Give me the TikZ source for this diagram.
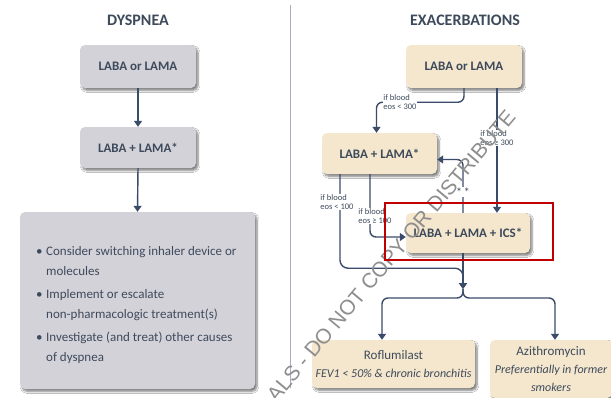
\documentclass[tikz,border=0pt]{standalone}
\usepackage{fontspec}
\usepackage{pdfrender}
\setmainfont{Carlito}
\newfontfamily\wmfont{Liberation Sans}
\usetikzlibrary{shadows.blur,arrows.meta,calc}

\definecolor{ink}{HTML}{3D4A5C}
\definecolor{wire}{HTML}{3B4C6B}
\definecolor{grayfill}{HTML}{D4D2D9}
\definecolor{beige}{HTML}{F5E7CD}
\definecolor{divider}{HTML}{A8AEBF}
\definecolor{alert}{HTML}{C00000}
\definecolor{wmline}{HTML}{8E8E8E}

\begin{document}
\begin{tikzpicture}[x=1pt,y=-1pt,
  card/.style={rounded corners=5pt, inner sep=0pt, text=ink, align=center,
    blur shadow={shadow xshift=2pt, shadow yshift=-2.5pt, shadow blur steps=6, shadow opacity=50}},
  graycard/.style={card, fill=grayfill},
  tancard/.style={card, fill=beige},
  drug/.style={font=\fontsize{13}{15}\selectfont\bfseries},
  heading/.style={font=\fontsize{16}{18}\selectfont\bfseries, text=ink},
  link/.style={draw=wire, line width=1.4pt, rounded corners=6pt,
    -{Triangle[length=6pt,width=8pt]}},
  note/.style={fill=white, inner sep=0.6pt, align=left, text=ink,
    font=\fontsize{8.5}{8.5}\selectfont},
  wmark/.style={rotate=50, font=\wmfont\fontsize{21}{21}\selectfont, inner sep=0pt, text=wmline}
]
\useasboundingbox (0,0) rectangle (611,397);
\fill[white] (0,0) rectangle (611,397);

% column divider
\draw[divider, line width=1pt] (290,5) -- (290,388);

% ---------------- dyspnea column ----------------
\node[heading] (tdys) at (138,20) {DYSPNEA};
\node[graycard, drug, minimum width=116pt, minimum height=43pt] (d1) at (138,66.5) {LABA or LAMA};
\node[graycard, drug, minimum width=116pt, minimum height=41pt] (d2) at (138,147.5) {LABA + LAMA*};
\node[graycard, minimum width=235pt, minimum height=177pt] (d3) at (137.5,300.5) {};
\node[anchor=north west, align=left, inner sep=0pt, text=ink,
      font=\fontsize{13}{20}\selectfont] (d3t) at (36,246) {%
  \makebox[10pt][l]{\textbullet}Consider switching inhaler device or\\
  \hspace*{10pt}molecules\\[3pt]
  \makebox[10pt][l]{\textbullet}Implement or escalate\\
  \hspace*{10pt}non-pharmacologic treatment(s)\\[3pt]
  \makebox[10pt][l]{\textbullet}Investigate (and treat) other causes\\
  \hspace*{10pt}of dyspnea};

\draw[link] (d1.south) -- (d2.north);
\draw[link] (d2.south) -- (d3.north);

% ---------------- exacerbations column ----------------
\node[heading] (texa) at (465,20) {EXACERBATIONS};
\node[tancard, drug, minimum width=116pt, minimum height=43pt] (e1) at (464,66.5) {LABA or LAMA};
\node[tancard, drug, minimum width=115pt, minimum height=41pt] (e2) at (379.5,153.5) {LABA + LAMA*};
\node[tancard, drug, minimum width=124pt, minimum height=40pt] (e3) at (468,233) {LABA + LAMA + ICS*};
\node[tancard, minimum width=163pt, minimum height=48pt,
      font=\fontsize{12}{18}\selectfont] (e4) at (393.5,364)
  {{\fontsize{13}{18}\selectfont Roflumilast}\\{\itshape FEV1 < 50\% \& chronic bronchitis}};
\node[tancard, minimum width=122pt, minimum height=58pt,
      font=\fontsize{12}{18}\selectfont] (e5) at (551,369)
  {{\fontsize{13}{18}\selectfont Azithromycin}\\{\itshape Preferentially in former}\\{\itshape smokers}};

\coordinate (mg) at (463,289);

\draw[link] (e1.south) -- ++(0,14) -| ([xshift=-3pt]e2.north);
\draw[link] ([xshift=33pt]e1.south) -- ([xshift=33pt]e1.south |- e3.north);
\draw[link] ([xshift=-5pt]e3.north) |- ([yshift=-6pt]e2.east);
\draw[link] ([xshift=-9.5pt]e2.south) |- ([yshift=-4pt]e3.west);
\draw[link, rounded corners=8pt] ([xshift=-39.5pt]e2.south) -- ++(0,94) -| (mg);
\draw[link] ([xshift=-5pt]e3.south) -- (mg);
\draw[link] (mg) -- ++(0,9) -| ([xshift=-11.5pt]e4.north);
\draw[link] (mg) -- ++(0,9) -| ([xshift=4pt]e5.north);

\node[note] (n1) at (400,102) {if blood\\eos < 300};
\node[note] (n2) at (497,138) {if blood\\eos ≥ 300};
\node[note, font=\fontsize{12}{12}\selectfont] (n3) at (463,192) {*\,*};
\node[note] (n4) at (337,202) {if blood\\eos < 100};
\node[note] (n5) at (375,216) {if blood\\eos ≥ 100};

% watermark in outline letters
\node[wmark] (wm) at (391,256)
  {\textpdfrender{TextRenderingMode=Stroke, LineWidth=0.6}{ALS - DO NOT COPY OR DISTRIBUTE}};

% highlight frame
\draw[alert, line width=2.6pt] (385,203) rectangle (553,260);
\end{tikzpicture}
\end{document}
